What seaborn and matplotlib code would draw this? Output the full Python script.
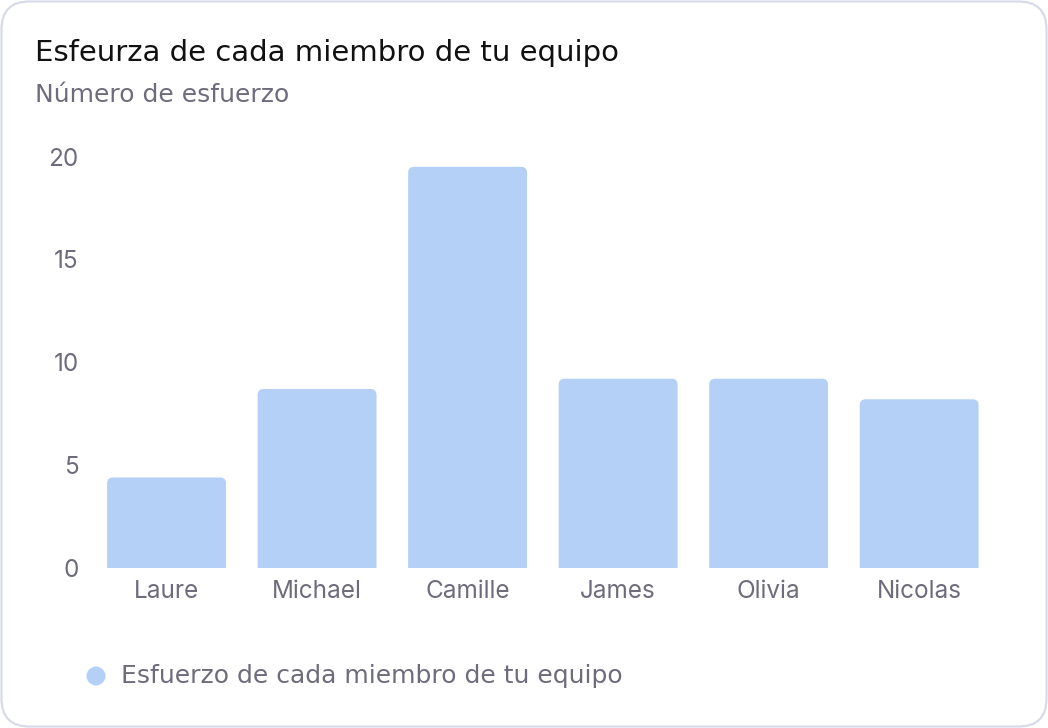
import matplotlib
matplotlib.use("Agg")
import matplotlib.pyplot as plt
from matplotlib.patches import FancyBboxPatch, Ellipse
import seaborn as sns
import pandas as pd

# Data
names = ["Laure", "Michael", "Camille", "James", "Olivia", "Nicolas"]
efforts = [4.4, 8.7, 19.5, 9.2, 9.2, 8.2]
y_ticks = [0, 5, 10, 15, 20]
title = "Esfeurza de cada miembro de tu equipo"
subtitle = "Número de esfuerzo"
series_name = "Esfuerzo de cada miembro de tu equipo"

BAR = "#b4d0f7"
GRAY = "#6e6c7c"

sns.set_theme(style="white")
plt.rcParams['font.family'] = ['Inter', 'DejaVu Sans']

W, H = 1048, 728
fig = plt.figure(figsize=(W / 100, H / 100), dpi=100)
fig.patch.set_facecolor("white")

# Card border
card = FancyBboxPatch((1.5 / W, 1.5 / H), 1 - 3 / W, 1 - 3 / H,
                      boxstyle="round,pad=0,rounding_size=%f" % (28 / W),
                      mutation_aspect=W / H, transform=fig.transFigure,
                      facecolor="white", edgecolor="#d5d9e8", linewidth=1.5,
                      zorder=-10)
fig.patches.append(card)

ax_left, ax_right = 91.3 / W, 994.4 / W
ax_bottom, ax_top = 1 - 568 / H, 1 - 156.5 / H
ax = fig.add_axes([ax_left, ax_bottom, ax_right - ax_left, ax_top - ax_bottom])
ax.set_facecolor("none")
ax.set_zorder(5)

df = pd.DataFrame({"name": names, "effort": efforts})
sns.barplot(data=df, x="name", y="effort", color=BAR, width=0.79,
            saturation=1, ax=ax)

ax.set_ylim(0, 20)
ax.set_xlim(-0.5, len(names) - 0.5)

# Replace bars by top-rounded bars (bottom corners hidden below the axis)
px_x = (ax_right - ax_left) * W / len(names)   # px per x unit
px_y = (ax_top - ax_bottom) * H / 20.0          # px per y unit
r_px = 6
r_x = r_px / px_x
aspect = (r_px / px_y) / r_x
for p in list(ax.patches):
    x0, w, h = p.get_x(), p.get_width(), p.get_height()
    p.set_visible(False)
    ax.add_patch(FancyBboxPatch((x0, -1), w, h + 1,
                                boxstyle="round,pad=0,rounding_size=%f" % r_x,
                                mutation_aspect=aspect, facecolor=BAR,
                                edgecolor="none", zorder=2, clip_on=True))

ax.set_yticks(y_ticks)
ax.set_yticklabels([str(t) for t in y_ticks])
ax.set_xlabel("")
ax.set_ylabel("")
ax.tick_params(axis="both", length=0, labelsize=17.5, labelcolor=GRAY)
ax.tick_params(axis="y", pad=9)
ax.tick_params(axis="x", pad=9)
for s in ax.spines.values():
    s.set_visible(False)
ax.grid(False)

# Title and subtitle
fig.text(35 / W, 1 - 61 / H, title, fontsize=21, color="#111111",
         va="baseline", ha="left", family=['DejaVu Sans'])
fig.text(35 / W, 1 - 102 / H, subtitle, fontsize=18, color=GRAY,
         va="baseline", ha="left", family=['DejaVu Sans'])

# Legend
fig.patches.append(Ellipse((96 / W, 1 - 676 / H), 19 / W, 19 / H,
                           transform=fig.transFigure, facecolor=BAR,
                           edgecolor="none"))
fig.text(121 / W, 1 - 683 / H, series_name, fontsize=18, color=GRAY,
         va="baseline", ha="left", family=['DejaVu Sans'])

fig.savefig("out.png", dpi=100)
